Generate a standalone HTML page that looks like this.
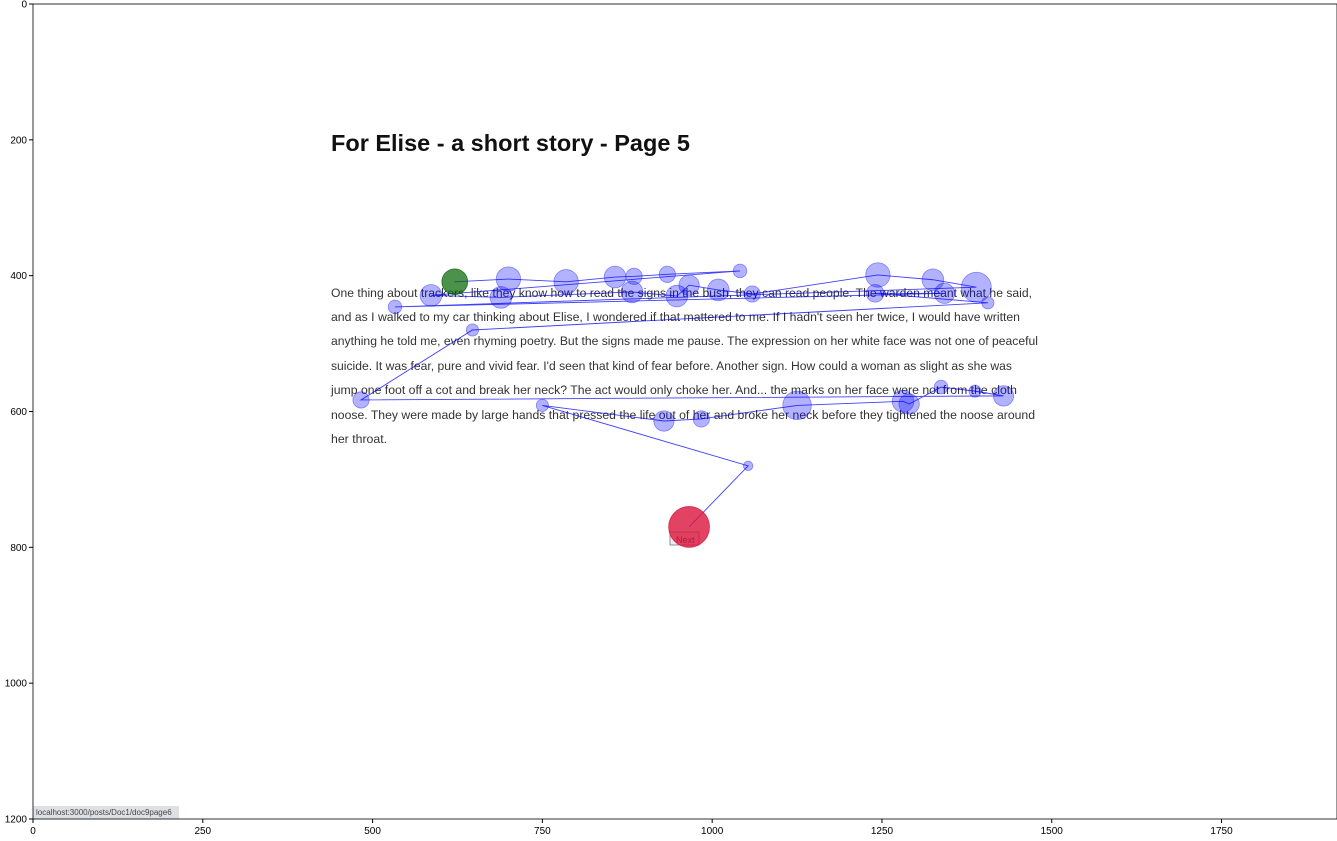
<!DOCTYPE html>
<html><head><meta charset="utf-8"><style>
body{margin:0;background:#fff;width:1337px;height:836px;overflow:hidden;font-family:"Liberation Sans",sans-serif}
svg text{font-family:"Liberation Sans","DejaVu Sans",sans-serif}
</style></head><body>
<svg id="chart" width="1337" height="836" xmlns="http://www.w3.org/2000/svg">
<g id="page">
<text x="331" y="151" font-size="23" font-weight="bold" fill="#111" textLength="359" lengthAdjust="spacingAndGlyphs">For Elise - a short story - Page 5</text>
<g font-size="12.3" fill="#333">
<text x="331" y="297" textLength="701" lengthAdjust="spacingAndGlyphs">One thing about trackers, like they know how to read the signs in the bush, they can read people. The warden meant what he said,</text>
<text x="331" y="321" textLength="689" lengthAdjust="spacingAndGlyphs">and as I walked to my car thinking about Elise, I wondered if that mattered to me. If I hadn't seen her twice, I would have written</text>
<text x="331" y="345" textLength="707" lengthAdjust="spacingAndGlyphs">anything he told me, even rhyming poetry. But the signs made me pause. The expression on her white face was not one of peaceful</text>
<text x="331" y="370" textLength="681" lengthAdjust="spacingAndGlyphs">suicide. It was fear, pure and vivid fear. I'd seen that kind of fear before. Another sign. How could a woman as slight as she was</text>
<text x="331" y="394" textLength="686" lengthAdjust="spacingAndGlyphs">jump one foot off a cot and break her neck? The act would only choke her. And... the marks on her face were not from the cloth</text>
<text x="331" y="419" textLength="704" lengthAdjust="spacingAndGlyphs">noose. They were made by large hands that pressed the life out of her and broke her neck before they tightened the noose around</text>
<text x="331" y="443">her throat.</text>
</g>
<rect x="670" y="532" width="29" height="13" fill="#eee" stroke="#777" stroke-width="0.8"/>
<text x="676" y="543" font-size="9" fill="#333">Next</text>
<rect x="33" y="806" width="146" height="13" fill="#dde1e6"/>
<text x="36" y="815" font-size="8" fill="#444">localhost:3000/posts/Doc1/doc9page6</text>
</g>
<g id="marks"></g>
<g id="axes"></g>
</svg>
<script>
// fixation data in screen coordinates (0..1920, 0..1200); radius in data units
const fixX=[621,700,785,857,885,934,1041,586,689,882,948,966,1009,1059,1244,1325,1389,533,1342,1240,1406,647,483,1429,1387,1337,1290,1281,1125,984,929,750,1053,966];
const fixY=[409,405,409,402,401,398,393,429,432,424,430,414,421,427,399,406,417,446,426,426,440,480,583,577,570,564,589,585,591,611,614,591,680,770];
const fixR=[19,18,18,16,12,12,10,16,16,16,16,15,16,12,18,16,22,10,15,13,9,9,12,15,9,10,15,16,21,12,15,9,7,30];
const xTicks=[0,250,500,750,1000,1250,1500,1750];
const yTicks=[0,200,400,600,800,1000,1200];
const X0=33,Y0=4,SX=1304/1920,SY=815/1200;
function xs(v){return X0+v*SX}
function ys(v){return Y0+v*SY}
const NS="http://www.w3.org/2000/svg";
const marks=document.getElementById('marks');
let pts=fixX.map((x,i)=>xs(x)+','+ys(fixY[i])).join(' ');
const pl=document.createElementNS(NS,'polyline');


pl.setAttribute('points',pts);pl.setAttribute('fill','none');pl.setAttribute('stroke','#0000ff');pl.setAttribute('stroke-opacity','0.75');pl.setAttribute('stroke-width','0.9');
marks.appendChild(pl);
fixX.forEach((x,i)=>{
 const c=document.createElementNS(NS,'circle');
 
 
 c.setAttribute('cx',xs(x));c.setAttribute('cy',ys(fixY[i]));c.setAttribute('r',fixR[i]*SX);
 let fill='#0000ff',op=0.3;
 if(i===0){fill='#006400';op=0.7}
 if(i===fixX.length-1){fill='#dc143c';op=0.8}
 c.setAttribute('fill',fill);c.setAttribute('fill-opacity',op);
 c.setAttribute('stroke',fill);c.setAttribute('stroke-opacity',Math.min(1,op+0.1));c.setAttribute('stroke-width','0.8');
 marks.appendChild(c);
});
const ax=document.getElementById('axes');
const fr=document.createElementNS(NS,'rect');


fr.setAttribute('x',X0);fr.setAttribute('y',Y0);fr.setAttribute('width',1304);fr.setAttribute('height',815);fr.setAttribute('fill','none');fr.setAttribute('stroke','#000');fr.setAttribute('stroke-width','0.8');
ax.appendChild(fr);
xTicks.forEach(v=>{
 const l=document.createElementNS(NS,'line');
 
 
 l.setAttribute('x1',xs(v));l.setAttribute('x2',xs(v));l.setAttribute('y1',819);l.setAttribute('y2',823);l.setAttribute('stroke','#000');
 ax.appendChild(l);
 const t=document.createElementNS(NS,'text');
 
 
 t.setAttribute('x',xs(v));t.setAttribute('y',834);t.setAttribute('font-size','10');t.setAttribute('text-anchor','middle');
 t.textContent=v;ax.appendChild(t);
});
yTicks.forEach(v=>{
 const l=document.createElementNS(NS,'line');
 
 
 l.setAttribute('x1',29);l.setAttribute('x2',33);l.setAttribute('y1',ys(v));l.setAttribute('y2',ys(v));l.setAttribute('stroke','#000');
 ax.appendChild(l);
 const t=document.createElementNS(NS,'text');
 
 
 t.setAttribute('x',27);t.setAttribute('y',ys(v)+3.5);t.setAttribute('font-size','10');t.setAttribute('text-anchor','end');
 t.textContent=v;ax.appendChild(t);
});
</script>
</body></html>
